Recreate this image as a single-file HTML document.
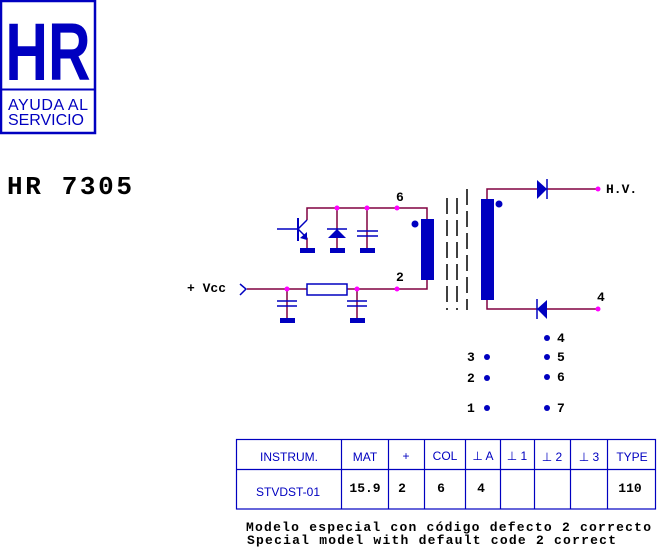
<!DOCTYPE html>
<html><head><meta charset="utf-8"><style>
html,body{margin:0;padding:0;background:#fff;width:657px;height:550px;overflow:hidden}
svg{display:block}
</style></head><body>
<svg width="657" height="550" viewBox="0 0 657 550" xmlns="http://www.w3.org/2000/svg">
<rect x="1" y="1" width="94" height="132" fill="none" stroke="#0000c0" stroke-width="2.5"/>
<line x1="1" y1="89.5" x2="95" y2="89.5" stroke="#0000c0" stroke-width="2"/>
<text x="48" y="80" font-family="Liberation Sans, sans-serif" font-weight="bold" font-size="82" fill="#0000c0" text-anchor="middle" transform="translate(48 0) scale(0.72 1) translate(-48 0)">HR</text>
<text x="8" y="110" font-family="Liberation Sans, sans-serif" font-size="16" fill="#0000c0" textLength="80">AYUDA AL</text>
<text x="8" y="125" font-family="Liberation Sans, sans-serif" font-size="16" fill="#0000c0" textLength="76">SERVICIO</text>
<text x="7" y="194" font-family="Liberation Mono, monospace" font-weight="bold" font-size="26" fill="#000" textLength="125">HR 7305</text>

<g stroke="#800040" stroke-width="1.5" fill="none">
<polyline points="307,220 307,208 427,208 427,219"/>
<polyline points="247,289 427,289 427,280"/>
<line x1="337" y1="208" x2="337" y2="250"/>
<line x1="367" y1="208" x2="367" y2="250"/>
<line x1="307" y1="238" x2="307" y2="250"/>
<line x1="287" y1="289" x2="287" y2="320"/>
<line x1="357" y1="289" x2="357" y2="320"/>
<polyline points="487,199 487,189 598,189"/>
<polyline points="487,300 487,309 598,309"/>
</g>
<g stroke="#0000c0" stroke-width="1.5" fill="none">
<line x1="277" y1="229" x2="298" y2="229"/>
<line x1="298" y1="218" x2="298" y2="241" stroke-width="2"/>
<line x1="298" y1="229" x2="307" y2="220"/>
<line x1="298" y1="229" x2="307" y2="238"/>
<line x1="327" y1="229" x2="347" y2="229"/>
<line x1="357" y1="231" x2="378" y2="231"/>
<line x1="357" y1="236" x2="378" y2="236"/>
<line x1="277" y1="301" x2="297" y2="301"/>
<line x1="277" y1="306" x2="297" y2="306"/>
<line x1="347" y1="301" x2="367" y2="301"/>
<line x1="347" y1="306" x2="367" y2="306"/>
<rect x="307" y="284" width="40" height="11" fill="#fff"/>
<polyline points="240,284 246,289 240,295"/>
<line x1="547" y1="179" x2="547" y2="199"/>
<line x1="537" y1="299" x2="537" y2="319"/>
</g>
<g fill="#0000c0">
<polygon points="300,238 307,232 307,240"/>
<polygon points="328,238 346,238 337,229"/>
<rect x="300" y="248" width="15" height="5"/><rect x="330" y="248" width="15" height="5"/><rect x="360" y="248" width="15" height="5"/>
<rect x="280" y="318" width="15" height="5"/><rect x="350" y="318" width="15" height="5"/>
<rect x="421" y="219" width="13" height="61"/>
<rect x="481" y="199" width="13" height="101"/>
<circle cx="415" cy="224" r="3.5"/><circle cx="499" cy="204" r="3.5"/>
<polygon points="537,180 547,189 537,199"/>
<polygon points="547,300 537,309 547,319"/>
<circle cx="547" cy="338" r="3"/><circle cx="547" cy="357" r="3"/><circle cx="547" cy="377" r="3"/><circle cx="547" cy="408" r="3"/>
<circle cx="487" cy="357" r="3"/><circle cx="487" cy="378" r="3"/><circle cx="487" cy="408" r="3"/>
</g>
<g stroke="#000" stroke-width="1.5" stroke-dasharray="16,6">
<line x1="447" y1="198" x2="447" y2="310"/>
<line x1="457" y1="198" x2="457" y2="310"/>
<line x1="467" y1="189" x2="467" y2="310"/>
</g>
<g fill="#ff00ff">
<circle cx="337" cy="208" r="2.5"/><circle cx="367" cy="208" r="2.5"/><circle cx="397" cy="208" r="2.5"/>
<circle cx="287" cy="289" r="2.5"/><circle cx="357" cy="289" r="2.5"/><circle cx="397" cy="289" r="2.5"/>
<circle cx="598" cy="189" r="2.5"/><circle cx="598" cy="309" r="2.5"/>
</g>
<g font-family="Liberation Mono, monospace" font-weight="bold" font-size="13" fill="#000">
<text x="396" y="201">6</text><text x="396" y="281">2</text>
<text x="187" y="292">+ Vcc</text>
<text x="606" y="193">H.V.</text><text x="597" y="301">4</text>
<text x="557" y="342">4</text><text x="557" y="361">5</text><text x="557" y="381">6</text><text x="557" y="412">7</text>
<text x="467" y="361">3</text><text x="467" y="382">2</text><text x="467" y="412">1</text>
</g>
<g stroke="#0000c0" stroke-width="1.2" fill="none">
<rect x="236.5" y="439.5" width="419" height="69.5"/>
<line x1="236" y1="469.5" x2="656" y2="469.5"/>
<line x1="341.5" y1="439" x2="341.5" y2="509"/><line x1="388.5" y1="439" x2="388.5" y2="509"/>
<line x1="424.5" y1="439" x2="424.5" y2="509"/><line x1="465.5" y1="439" x2="465.5" y2="509"/>
<line x1="500.5" y1="439" x2="500.5" y2="509"/><line x1="534.5" y1="439" x2="534.5" y2="509"/>
<line x1="570.5" y1="439" x2="570.5" y2="509"/><line x1="607.5" y1="439" x2="607.5" y2="509"/>
</g>
<g font-family="Liberation Sans, sans-serif" font-size="12" fill="#0000c0" text-anchor="middle">
<text x="289" y="461">INSTRUM.</text><text x="365" y="461">MAT</text><text x="406" y="460">+</text>
<text x="445" y="460">COL</text><text x="483" y="460">⊥ A</text><text x="517" y="460">⊥ 1</text>
<text x="552" y="461">⊥ 2</text><text x="589" y="461">⊥ 3</text><text x="632" y="461">TYPE</text>
<text x="288" y="496">STVDST-01</text>
</g>
<g font-family="Liberation Mono, monospace" font-weight="bold" font-size="13" fill="#000" text-anchor="middle">
<text x="365" y="492">15.9</text><text x="402" y="492">2</text><text x="441" y="492">6</text><text x="481" y="492">4</text><text x="630" y="492">110</text>
</g>
<g font-family="Liberation Mono, monospace" font-weight="bold" font-size="13" fill="#000">
<text x="246" y="531" textLength="405">Modelo especial con código defecto 2 correcto</text>
<text x="247" y="544" textLength="369">Special model with default code 2 correct</text>
</g>
</svg>
</body></html>
